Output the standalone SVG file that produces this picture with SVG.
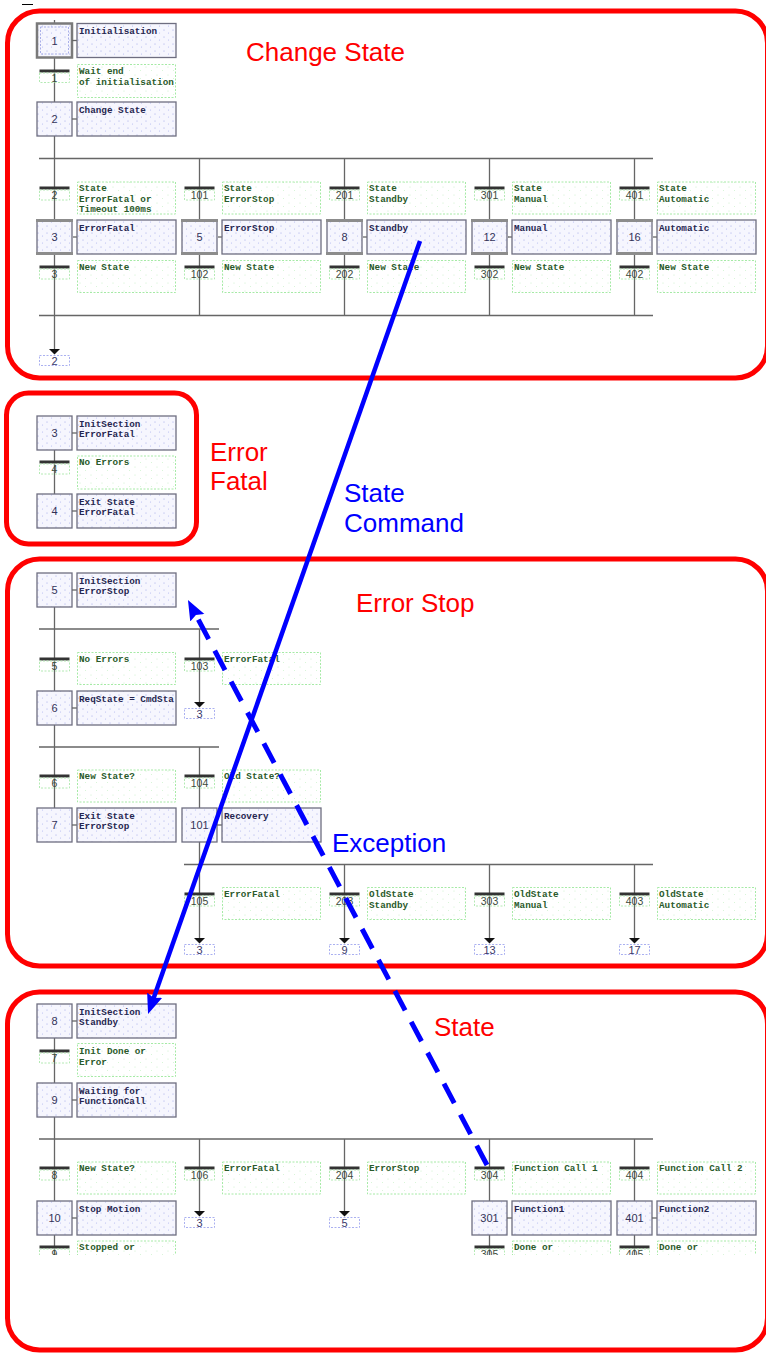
<svg xmlns="http://www.w3.org/2000/svg" width="766" height="1355" viewBox="0 0 766 1355">
<defs>
<pattern id="dots" width="9" height="7" patternUnits="userSpaceOnUse">
<rect width="9" height="7" fill="#f6f6fe"/>
<circle cx="2" cy="2" r="0.55" fill="#9aa2e6"/>
<circle cx="6.5" cy="5" r="0.55" fill="#b4baf0"/>
</pattern>
<pattern id="gdots" width="11" height="8" patternUnits="userSpaceOnUse">
<rect width="11" height="8" fill="#ffffff"/>
<circle cx="3" cy="3" r="0.5" fill="#bfeebf"/>
<circle cx="8.5" cy="6.5" r="0.5" fill="#cdf2cd"/>
</pattern>
<clipPath id="cut"><rect x="0" y="0" width="766" height="1255"/></clipPath>
<marker id="ab" markerUnits="userSpaceOnUse" viewBox="0 0 20 18" markerWidth="20" markerHeight="18" refX="12" refY="9" orient="auto">
<path d="M0,1 L20,9 L0,17 L3,9 z" fill="#0000ff"/>
</marker>
<style>
.box{fill:url(#dots);stroke:#6e6e80;stroke-width:1.3}
.band{fill:#8c8c8c}
.sn{font-family:"Liberation Sans",Arial,sans-serif;font-size:11px;fill:#333358;text-anchor:middle}
.at{font-family:"Liberation Mono","Courier New",monospace;font-weight:bold;font-size:9.3px;fill:#262650}
.ct{font-family:"Liberation Mono","Courier New",monospace;font-weight:bold;font-size:9.3px;fill:#2a5a2a}
.cb{fill:url(#gdots);stroke:#a6eaa6;stroke-width:1;stroke-dasharray:2 1.5}
.bar{fill:#333333}
.tl{font-family:"Liberation Sans",Arial,sans-serif;font-size:10.5px;fill:#3c4c3c;text-anchor:middle}
.tlb{fill:none;stroke:#b4eab4;stroke-width:1;stroke-dasharray:2 1.5}
.ln{stroke:#666666;stroke-width:1.3;fill:none}
.tri{fill:#111111}
.jb{fill:none;stroke:#aab0f0;stroke-width:1;stroke-dasharray:2 1.5}
.jt{font-family:"Liberation Sans",Arial,sans-serif;font-size:11px;fill:#3a3a6a;text-anchor:middle}
.frame{fill:none;stroke:#ff0000;stroke-width:5}
.rt{font-family:"Liberation Sans",Arial,sans-serif;font-size:26px;fill:#ff0000}
.bt{font-family:"Liberation Sans",Arial,sans-serif;font-size:26px;fill:#0000ff}
</style>
</defs>
<rect width="766" height="1355" fill="#ffffff"/>
<line x1="22" y1="4.5" x2="33" y2="4.5" stroke="#000" stroke-width="1"/>

<g id="frames">
<rect class="frame" x="7.5" y="11" width="760" height="367" rx="32"/>
<rect class="frame" x="6.5" y="393" width="190" height="151" rx="22"/>
<rect class="frame" x="7.5" y="559" width="760" height="407" rx="32"/>
<rect class="frame" x="7.5" y="992" width="760" height="358" rx="32"/>
</g>
<g id="titles">
<text class="rt" x="246" y="61">Change State</text>
<text class="rt" x="210" y="461">Error</text>
<text class="rt" x="210" y="490">Fatal</text>
<text class="rt" x="356" y="612">Error Stop</text>
<text class="rt" x="434" y="1036">State</text>
</g>

<g id="connectors">
<path class="ln" d="M54.5,20 V23.5 M54.5,57.5 V102 M54.5,136 V158.5 M39,158.5 H653 M54.5,158.5 V220 M199.5,158.5 V220 M344.5,158.5 V220 M489.5,158.5 V220 M634.5,158.5 V220 M54.5,254 V315.5 M199.5,254 V315.5 M344.5,254 V315.5 M489.5,254 V315.5 M634.5,254 V315.5 M39,315.5 H653 M54.5,315.5 V350"/>
<polygon class="tri" points="49,349 60,349 54.5,354.5"/>
<path class="ln" d="M54.5,450 V494"/>
<path class="ln" d="M54.5,607 V629 M39,629 H219 M54.5,629 V691 M199.5,629 V703 M54.5,725 V747 M39,747 H219 M54.5,747 V808 M199.5,747 V808 M199.5,842 V864.5 M184,864.5 H653 M199.5,864.5 V939 M344.5,864.5 V939 M489.5,864.5 V939 M634.5,864.5 V939"/>
<polygon class="tri" points="194,702 205,702 199.5,707.5"/>
<polygon class="tri" points="194,938 205,938 199.5,943.5"/>
<polygon class="tri" points="339,938 350,938 344.5,943.5"/>
<polygon class="tri" points="484,938 495,938 489.5,943.5"/>
<polygon class="tri" points="629,938 640,938 634.5,943.5"/>
<path class="ln" d="M54.5,1038 V1083 M54.5,1117 V1139 M39,1139 H653 M54.5,1139 V1201 M199.5,1139 V1212 M344.5,1139 V1212 M489.5,1139 V1201 M634.5,1139 V1201"/>
<path class="ln" clip-path="url(#cut)" d="M54.5,1235 V1260 M489.5,1235 V1260 M634.5,1235 V1260"/>
<polygon class="tri" points="194,1211 205,1211 199.5,1216.5"/>
<polygon class="tri" points="339,1211 350,1211 344.5,1216.5"/>
</g>

<g id="jump-cs-2"><rect class="jb" x="39.5" y="355.5" width="30" height="10"/><text class="jt" x="54.5" y="364.5">2</text></g>
<g id="jump-es-3a"><rect class="jb" x="184.5" y="708.5" width="30" height="10"/><text class="jt" x="199.5" y="717.5">3</text></g>
<g id="jump-es-3b"><rect class="jb" x="184.5" y="944.5" width="30" height="10"/><text class="jt" x="199.5" y="953.5">3</text></g>
<g id="jump-es-9"><rect class="jb" x="329.5" y="944.5" width="30" height="10"/><text class="jt" x="344.5" y="953.5">9</text></g>
<g id="jump-es-13"><rect class="jb" x="474.5" y="944.5" width="30" height="10"/><text class="jt" x="489.5" y="953.5">13</text></g>
<g id="jump-es-17"><rect class="jb" x="619.5" y="944.5" width="30" height="10"/><text class="jt" x="634.5" y="953.5">17</text></g>
<g id="jump-st-3"><rect class="jb" x="184.5" y="1217.5" width="30" height="10"/><text class="jt" x="199.5" y="1226.5">3</text></g>
<g id="jump-st-5"><rect class="jb" x="329.5" y="1217.5" width="30" height="10"/><text class="jt" x="344.5" y="1226.5">5</text></g>

<g id="cs-step-1">
<rect x="37" y="23.5" width="35" height="34" fill="url(#dots)" stroke="#7a7a7a" stroke-width="2.5"/>
<rect x="40.5" y="27" width="28" height="27" fill="none" stroke="#a8aee8" stroke-width="1" stroke-dasharray="2 1.5"/>
<text class="sn" x="54.5" y="44.5">1</text>
<line class="ln" x1="72" y1="40.5" x2="77" y2="40.5"/>
<rect class="box" x="77" y="23.5" width="99" height="34"/>
<text class="at" x="79" y="34">Initialisation</text>
</g>
<g id="cs-step-2">
<rect class="box" x="37" y="102" width="35" height="34"/><text class="sn" x="54.5" y="123">2</text>
<line class="ln" x1="72" y1="119" x2="77" y2="119"/>
<rect class="box" x="77" y="102" width="99" height="34"/><text class="at" x="79" y="112.5">Change State</text>
</g>
<g id="cs-step-3">
<rect class="box" x="37" y="220" width="35" height="34" stroke-width="2"/><rect class="band" x="36" y="219" width="37" height="3"/><rect class="band" x="36" y="252" width="37" height="3"/>
<text class="sn" x="54.5" y="241">3</text>
<line class="ln" x1="73" y1="237" x2="77" y2="237"/>
<rect class="box" x="77" y="220" width="99" height="34"/><text class="at" x="79" y="230.5">ErrorFatal</text>
</g>
<g id="cs-step-5">
<rect class="box" x="182" y="220" width="35" height="34" stroke-width="2"/><rect class="band" x="181" y="219" width="37" height="3"/><rect class="band" x="181" y="252" width="37" height="3"/>
<text class="sn" x="199.5" y="241">5</text>
<line class="ln" x1="218" y1="237" x2="222" y2="237"/>
<rect class="box" x="222" y="220" width="99" height="34"/><text class="at" x="224" y="230.5">ErrorStop</text>
</g>
<g id="cs-step-8">
<rect class="box" x="327" y="220" width="35" height="34" stroke-width="2"/><rect class="band" x="326" y="219" width="37" height="3"/><rect class="band" x="326" y="252" width="37" height="3"/>
<text class="sn" x="344.5" y="241">8</text>
<line class="ln" x1="363" y1="237" x2="367" y2="237"/>
<rect class="box" x="367" y="220" width="99" height="34"/><text class="at" x="369" y="230.5">Standby</text>
</g>
<g id="cs-step-12">
<rect class="box" x="472" y="220" width="35" height="34" stroke-width="2"/><rect class="band" x="471" y="219" width="37" height="3"/><rect class="band" x="471" y="252" width="37" height="3"/>
<text class="sn" x="489.5" y="241">12</text>
<line class="ln" x1="508" y1="237" x2="512" y2="237"/>
<rect class="box" x="512" y="220" width="99" height="34"/><text class="at" x="514" y="230.5">Manual</text>
</g>
<g id="cs-step-16">
<rect class="box" x="617" y="220" width="35" height="34" stroke-width="2"/><rect class="band" x="616" y="219" width="37" height="3"/><rect class="band" x="616" y="252" width="37" height="3"/>
<text class="sn" x="634.5" y="241">16</text>
<line class="ln" x1="653" y1="237" x2="657" y2="237"/>
<rect class="box" x="657" y="220" width="99" height="34"/><text class="at" x="659" y="230.5">Automatic</text>
</g>

<g id="cs-tr-1"><rect class="bar" x="39.5" y="69.5" width="30" height="3"/><rect class="tlb" x="39.5" y="73" width="30" height="9.5"/><text class="tl" x="54.5" y="82">1</text>
<rect class="cb" x="77.5" y="64.5" width="98" height="33"/><text class="ct" x="79" y="74">Wait end</text><text class="ct" x="79" y="84.7">of initialisation</text></g>
<g id="cs-tr-2"><rect class="bar" x="39.5" y="186.5" width="30" height="3"/><rect class="tlb" x="39.5" y="190" width="30" height="10"/><text class="tl" x="54.5" y="199">2</text>
<rect class="cb" x="77.5" y="182" width="98" height="32"/><text class="ct" x="79" y="191">State</text><text class="ct" x="79" y="201.7">ErrorFatal or</text><text class="ct" x="79" y="212.4">Timeout 100ms</text></g>
<g id="cs-tr-101"><rect class="bar" x="184.5" y="186.5" width="30" height="3"/><rect class="tlb" x="184.5" y="190" width="30" height="10"/><text class="tl" x="199.5" y="199">101</text>
<rect class="cb" x="222.5" y="182" width="98" height="32"/><text class="ct" x="224" y="191">State</text><text class="ct" x="224" y="201.7">ErrorStop</text></g>
<g id="cs-tr-201"><rect class="bar" x="329.5" y="186.5" width="30" height="3"/><rect class="tlb" x="329.5" y="190" width="30" height="10"/><text class="tl" x="344.5" y="199">201</text>
<rect class="cb" x="367.5" y="182" width="98" height="32"/><text class="ct" x="369" y="191">State</text><text class="ct" x="369" y="201.7">Standby</text></g>
<g id="cs-tr-301"><rect class="bar" x="474.5" y="186.5" width="30" height="3"/><rect class="tlb" x="474.5" y="190" width="30" height="10"/><text class="tl" x="489.5" y="199">301</text>
<rect class="cb" x="512.5" y="182" width="98" height="32"/><text class="ct" x="514" y="191">State</text><text class="ct" x="514" y="201.7">Manual</text></g>
<g id="cs-tr-401"><rect class="bar" x="619.5" y="186.5" width="30" height="3"/><rect class="tlb" x="619.5" y="190" width="30" height="10"/><text class="tl" x="634.5" y="199">401</text>
<rect class="cb" x="657.5" y="182" width="98" height="32"/><text class="ct" x="659" y="191">State</text><text class="ct" x="659" y="201.7">Automatic</text></g>
<g id="cs-tr-3"><rect class="bar" x="39.5" y="265.5" width="30" height="3"/><rect class="tlb" x="39.5" y="269" width="30" height="10"/><text class="tl" x="54.5" y="278">3</text>
<rect class="cb" x="77.5" y="260.5" width="98" height="32"/><text class="ct" x="79" y="270">New State</text></g>
<g id="cs-tr-102"><rect class="bar" x="184.5" y="265.5" width="30" height="3"/><rect class="tlb" x="184.5" y="269" width="30" height="10"/><text class="tl" x="199.5" y="278">102</text>
<rect class="cb" x="222.5" y="260.5" width="98" height="32"/><text class="ct" x="224" y="270">New State</text></g>
<g id="cs-tr-202"><rect class="bar" x="329.5" y="265.5" width="30" height="3"/><rect class="tlb" x="329.5" y="269" width="30" height="10"/><text class="tl" x="344.5" y="278">202</text>
<rect class="cb" x="367.5" y="260.5" width="98" height="32"/><text class="ct" x="369" y="270">New State</text></g>
<g id="cs-tr-302"><rect class="bar" x="474.5" y="265.5" width="30" height="3"/><rect class="tlb" x="474.5" y="269" width="30" height="10"/><text class="tl" x="489.5" y="278">302</text>
<rect class="cb" x="512.5" y="260.5" width="98" height="32"/><text class="ct" x="514" y="270">New State</text></g>
<g id="cs-tr-402"><rect class="bar" x="619.5" y="265.5" width="30" height="3"/><rect class="tlb" x="619.5" y="269" width="30" height="10"/><text class="tl" x="634.5" y="278">402</text>
<rect class="cb" x="657.5" y="260.5" width="98" height="32"/><text class="ct" x="659" y="270">New State</text></g>

<g id="ef-step-3">
<rect class="box" x="37" y="416" width="35" height="34"/><text class="sn" x="54.5" y="437">3</text>
<line class="ln" x1="72" y1="433" x2="77" y2="433"/>
<rect class="box" x="77" y="416" width="99" height="34"/><text class="at" x="79" y="426.5">InitSection</text><text class="at" x="79" y="437">ErrorFatal</text>
</g>
<g id="ef-tr-4"><rect class="bar" x="39.5" y="460.5" width="30" height="3"/><rect class="tlb" x="39.5" y="464" width="30" height="10"/><text class="tl" x="54.5" y="473">4</text>
<rect class="cb" x="77.5" y="456" width="98" height="33"/><text class="ct" x="79" y="465">No Errors</text></g>
<g id="ef-step-4">
<rect class="box" x="37" y="494" width="35" height="34"/><text class="sn" x="54.5" y="515">4</text>
<line class="ln" x1="72" y1="511" x2="77" y2="511"/>
<rect class="box" x="77" y="494" width="99" height="34"/><text class="at" x="79" y="504.5">Exit State</text><text class="at" x="79" y="515">ErrorFatal</text>
</g>

<g id="es-step-5">
<rect class="box" x="37" y="573" width="35" height="34"/><text class="sn" x="54.5" y="594">5</text>
<line class="ln" x1="72" y1="590" x2="77" y2="590"/>
<rect class="box" x="77" y="573" width="99" height="34"/><text class="at" x="79" y="583.5">InitSection</text><text class="at" x="79" y="594">ErrorStop</text>
</g>
<g id="es-tr-5"><rect class="bar" x="39.5" y="657.5" width="30" height="3"/><rect class="tlb" x="39.5" y="661" width="30" height="10"/><text class="tl" x="54.5" y="670">5</text>
<rect class="cb" x="77.5" y="652.5" width="98" height="32"/><text class="ct" x="79" y="662">No Errors</text></g>
<g id="es-tr-103"><rect class="bar" x="184.5" y="657.5" width="30" height="3"/><rect class="tlb" x="184.5" y="661" width="30" height="10"/><text class="tl" x="199.5" y="670">103</text>
<rect class="cb" x="222.5" y="652.5" width="98" height="32"/><text class="ct" x="224" y="662">ErrorFatal</text></g>
<g id="es-step-6">
<rect class="box" x="37" y="691" width="35" height="34"/><text class="sn" x="54.5" y="712">6</text>
<line class="ln" x1="72" y1="708" x2="77" y2="708"/>
<rect class="box" x="77" y="691" width="99" height="34"/><text class="at" x="79" y="701.5">ReqState = CmdSta</text>
</g>
<g id="es-tr-6"><rect class="bar" x="39.5" y="774.5" width="30" height="3"/><rect class="tlb" x="39.5" y="778" width="30" height="10"/><text class="tl" x="54.5" y="787">6</text>
<rect class="cb" x="77.5" y="770" width="98" height="32"/><text class="ct" x="79" y="779">New State?</text></g>
<g id="es-tr-104"><rect class="bar" x="184.5" y="774.5" width="30" height="3"/><rect class="tlb" x="184.5" y="778" width="30" height="10"/><text class="tl" x="199.5" y="787">104</text>
<rect class="cb" x="222.5" y="770" width="98" height="32"/><text class="ct" x="224" y="779">Old State?</text></g>
<g id="es-step-7">
<rect class="box" x="37" y="808" width="35" height="34"/><text class="sn" x="54.5" y="829">7</text>
<line class="ln" x1="72" y1="825" x2="77" y2="825"/>
<rect class="box" x="77" y="808" width="99" height="34"/><text class="at" x="79" y="818.5">Exit State</text><text class="at" x="79" y="829">ErrorStop</text>
</g>
<g id="es-step-101">
<rect class="box" x="182" y="808" width="35" height="34"/><text class="sn" x="199.5" y="829">101</text>
<line class="ln" x1="217" y1="825" x2="222" y2="825"/>
<rect class="box" x="222" y="808" width="99" height="34"/><text class="at" x="224" y="818.5">Recovery</text>
</g>
<g id="es-tr-105"><rect class="bar" x="184.5" y="892.5" width="30" height="3"/><rect class="tlb" x="184.5" y="896" width="30" height="10"/><text class="tl" x="199.5" y="905">105</text>
<rect class="cb" x="222.5" y="887.5" width="98" height="32"/><text class="ct" x="224" y="897">ErrorFatal</text></g>
<g id="es-tr-203"><rect class="bar" x="329.5" y="892.5" width="30" height="3"/><rect class="tlb" x="329.5" y="896" width="30" height="10"/><text class="tl" x="344.5" y="905">203</text>
<rect class="cb" x="367.5" y="887.5" width="98" height="32"/><text class="ct" x="369" y="897">OldState</text><text class="ct" x="369" y="907.7">Standby</text></g>
<g id="es-tr-303"><rect class="bar" x="474.5" y="892.5" width="30" height="3"/><rect class="tlb" x="474.5" y="896" width="30" height="10"/><text class="tl" x="489.5" y="905">303</text>
<rect class="cb" x="512.5" y="887.5" width="98" height="32"/><text class="ct" x="514" y="897">OldState</text><text class="ct" x="514" y="907.7">Manual</text></g>
<g id="es-tr-403"><rect class="bar" x="619.5" y="892.5" width="30" height="3"/><rect class="tlb" x="619.5" y="896" width="30" height="10"/><text class="tl" x="634.5" y="905">403</text>
<rect class="cb" x="657.5" y="887.5" width="98" height="32"/><text class="ct" x="659" y="897">OldState</text><text class="ct" x="659" y="907.7">Automatic</text></g>

<g id="st-step-8">
<rect class="box" x="37" y="1004" width="35" height="34"/><text class="sn" x="54.5" y="1025">8</text>
<line class="ln" x1="72" y1="1021" x2="77" y2="1021"/>
<rect class="box" x="77" y="1004" width="99" height="34"/><text class="at" x="79" y="1014.5">InitSection</text><text class="at" x="79" y="1025">Standby</text>
</g>
<g id="st-tr-7"><rect class="bar" x="39.5" y="1049.5" width="30" height="3"/><rect class="tlb" x="39.5" y="1053" width="30" height="10"/><text class="tl" x="54.5" y="1062">7</text>
<rect class="cb" x="77.5" y="1043.5" width="98" height="33"/><text class="ct" x="79" y="1054">Init Done or</text><text class="ct" x="79" y="1064.7">Error</text></g>
<g id="st-step-9">
<rect class="box" x="37" y="1083" width="35" height="34"/><text class="sn" x="54.5" y="1104">9</text>
<line class="ln" x1="72" y1="1100" x2="77" y2="1100"/>
<rect class="box" x="77" y="1083" width="99" height="34"/><text class="at" x="79" y="1093.5">Waiting for</text><text class="at" x="79" y="1104">FunctionCall</text>
</g>
<g id="st-tr-8"><rect class="bar" x="39.5" y="1166.5" width="30" height="3"/><rect class="tlb" x="39.5" y="1170" width="30" height="10"/><text class="tl" x="54.5" y="1179">8</text>
<rect class="cb" x="77.5" y="1162" width="98" height="32"/><text class="ct" x="79" y="1171">New State?</text></g>
<g id="st-tr-106"><rect class="bar" x="184.5" y="1166.5" width="30" height="3"/><rect class="tlb" x="184.5" y="1170" width="30" height="10"/><text class="tl" x="199.5" y="1179">106</text>
<rect class="cb" x="222.5" y="1162" width="98" height="32"/><text class="ct" x="224" y="1171">ErrorFatal</text></g>
<g id="st-tr-204"><rect class="bar" x="329.5" y="1166.5" width="30" height="3"/><rect class="tlb" x="329.5" y="1170" width="30" height="10"/><text class="tl" x="344.5" y="1179">204</text>
<rect class="cb" x="367.5" y="1162" width="98" height="32"/><text class="ct" x="369" y="1171">ErrorStop</text></g>
<g id="st-tr-304"><rect class="bar" x="474.5" y="1166.5" width="30" height="3"/><rect class="tlb" x="474.5" y="1170" width="30" height="10"/><text class="tl" x="489.5" y="1179">304</text>
<rect class="cb" x="512.5" y="1162" width="98" height="32"/><text class="ct" x="514" y="1171">Function Call 1</text></g>
<g id="st-tr-404"><rect class="bar" x="619.5" y="1166.5" width="30" height="3"/><rect class="tlb" x="619.5" y="1170" width="30" height="10"/><text class="tl" x="634.5" y="1179">404</text>
<rect class="cb" x="657.5" y="1162" width="98" height="32"/><text class="ct" x="659" y="1171">Function Call 2</text></g>
<g id="st-step-10">
<rect class="box" x="37" y="1201" width="35" height="34"/><text class="sn" x="54.5" y="1222">10</text>
<line class="ln" x1="72" y1="1218" x2="77" y2="1218"/>
<rect class="box" x="77" y="1201" width="99" height="34"/><text class="at" x="79" y="1211.5">Stop Motion</text>
</g>
<g id="st-step-301">
<rect class="box" x="472" y="1201" width="35" height="34"/><text class="sn" x="489.5" y="1222">301</text>
<line class="ln" x1="507" y1="1218" x2="512" y2="1218"/>
<rect class="box" x="512" y="1201" width="99" height="34"/><text class="at" x="514" y="1211.5">Function1</text>
</g>
<g id="st-step-401">
<rect class="box" x="617" y="1201" width="35" height="34"/><text class="sn" x="634.5" y="1222">401</text>
<line class="ln" x1="652" y1="1218" x2="657" y2="1218"/>
<rect class="box" x="657" y="1201" width="99" height="34"/><text class="at" x="659" y="1211.5">Function2</text>
</g>
<g id="st-tr-9" clip-path="url(#cut)"><rect class="bar" x="39.5" y="1245.5" width="30" height="3"/><rect class="tlb" x="39.5" y="1249" width="30" height="10"/><text class="tl" x="54.5" y="1258">9</text>
<rect class="cb" x="77.5" y="1241" width="98" height="32"/><text class="ct" x="79" y="1250">Stopped or</text><text class="ct" x="79" y="1260.7">Error</text></g>
<g id="st-tr-305" clip-path="url(#cut)"><rect class="bar" x="474.5" y="1245.5" width="30" height="3"/><rect class="tlb" x="474.5" y="1249" width="30" height="10"/><text class="tl" x="489.5" y="1258">305</text>
<rect class="cb" x="512.5" y="1241" width="98" height="32"/><text class="ct" x="514" y="1250">Done or</text><text class="ct" x="514" y="1260.7">Error or</text></g>
<g id="st-tr-405" clip-path="url(#cut)"><rect class="bar" x="619.5" y="1245.5" width="30" height="3"/><rect class="tlb" x="619.5" y="1249" width="30" height="10"/><text class="tl" x="634.5" y="1258">405</text>
<rect class="cb" x="657.5" y="1241" width="98" height="32"/><text class="ct" x="659" y="1250">Done or</text><text class="ct" x="659" y="1260.7">Error or</text></g>

<g id="cross-links">
<line x1="420" y1="241" x2="150.7" y2="1006.5" stroke="#0000ff" stroke-width="4.5" marker-end="url(#ab)"/>
<line x1="487" y1="1165" x2="191.7" y2="607.1" stroke="#0000ff" stroke-width="5" stroke-dasharray="22 13" marker-end="url(#ab)"/>
<text class="bt" x="344" y="502">State</text>
<text class="bt" x="344" y="532">Command</text>
<text class="bt" x="332" y="852">Exception</text>
</g>
</svg>
